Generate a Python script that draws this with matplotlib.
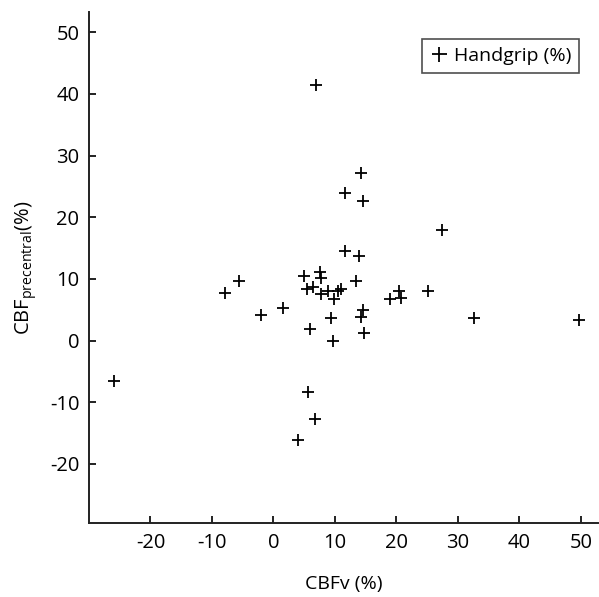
import matplotlib.pyplot as plt

# Values
cbfv = [-25.9, -7.8, -5.6, -2.1, 1.5, 5.0, 7.5, 7.8, 5.5, 6.4,
        7.8, 8.8, 9.9, 10.5, 11.0, 9.4, 5.9, 9.7, 13.5, 14.6,
        14.3, 14.8, 11.6, 14.0, 18.9, 20.5, 20.7, 25.2, 32.6, 49.7,
        14.3, 11.6, 14.6, 27.5, 5.6, 6.7, 4.0, 6.9]
cbf_precentral = [-6.6, 7.7, 9.6, 4.2, 5.3, 10.5, 11.1, 10.2, 8.3, 8.7,
                  7.5, 8.0, 6.7, 8.0, 8.3, 3.7, 1.8, -0.1, 9.6, 5.0,
                  3.9, 1.3, 14.5, 13.7, 6.7, 8.0, 6.9, 8.0, 3.7, 3.3,
                  27.1, 23.9, 22.7, 17.9, -8.3, -12.7, -16.2, 41.4]
x_ticks = [-20, -10, 0, 10, 20, 30, 40, 50]
y_ticks = [-20, -10, 0, 10, 20, 30, 40, 50]

plt.rcParams['font.family'] = ['Open Sans', 'DejaVu Sans']
plt.rcParams['axes.unicode_minus'] = False

fig = plt.figure(figsize=(5.99, 5.97), dpi=100)
ax = fig.add_axes([89 / 599, 74 / 597, 509 / 599, 511 / 597])

ax.plot(cbfv, cbf_precentral, linestyle='none', marker='+', color='black',
        markersize=9, markeredgewidth=1.3, label='Handgrip (%)')

ax.set_xlim(-30, 52.8)
ax.set_ylim(-29.6, 53.3)
ax.set_xticks(x_ticks)
ax.set_yticks(y_ticks)

for side in ['top', 'right']:
    ax.spines[side].set_visible(False)
for side in ['left', 'bottom']:
    ax.spines[side].set_linewidth(1.4)
    ax.spines[side].set_color('#222222')

ax.tick_params(direction='in', length=5, width=1.4, labelsize=14.5, pad=7,
               color='#222222')

ax.set_xlabel('CBFv (%)', fontsize=14, labelpad=16)
ax.set_ylabel(r'CBF$_{\mathregular{precentral}}$(%)', fontsize=14.5, labelpad=8)

leg = ax.legend(loc='upper right', bbox_to_anchor=(0.963, 0.947),
                borderaxespad=0, fancybox=False, fontsize=14,
                handlelength=1.0, handletextpad=0.25, borderpad=0.4,
                markerscale=1.2)
leg.get_frame().set_edgecolor('#222222')
leg.get_frame().set_linewidth(1.2)

fig.savefig('out.png', dpi=100)
plt.close(fig)
